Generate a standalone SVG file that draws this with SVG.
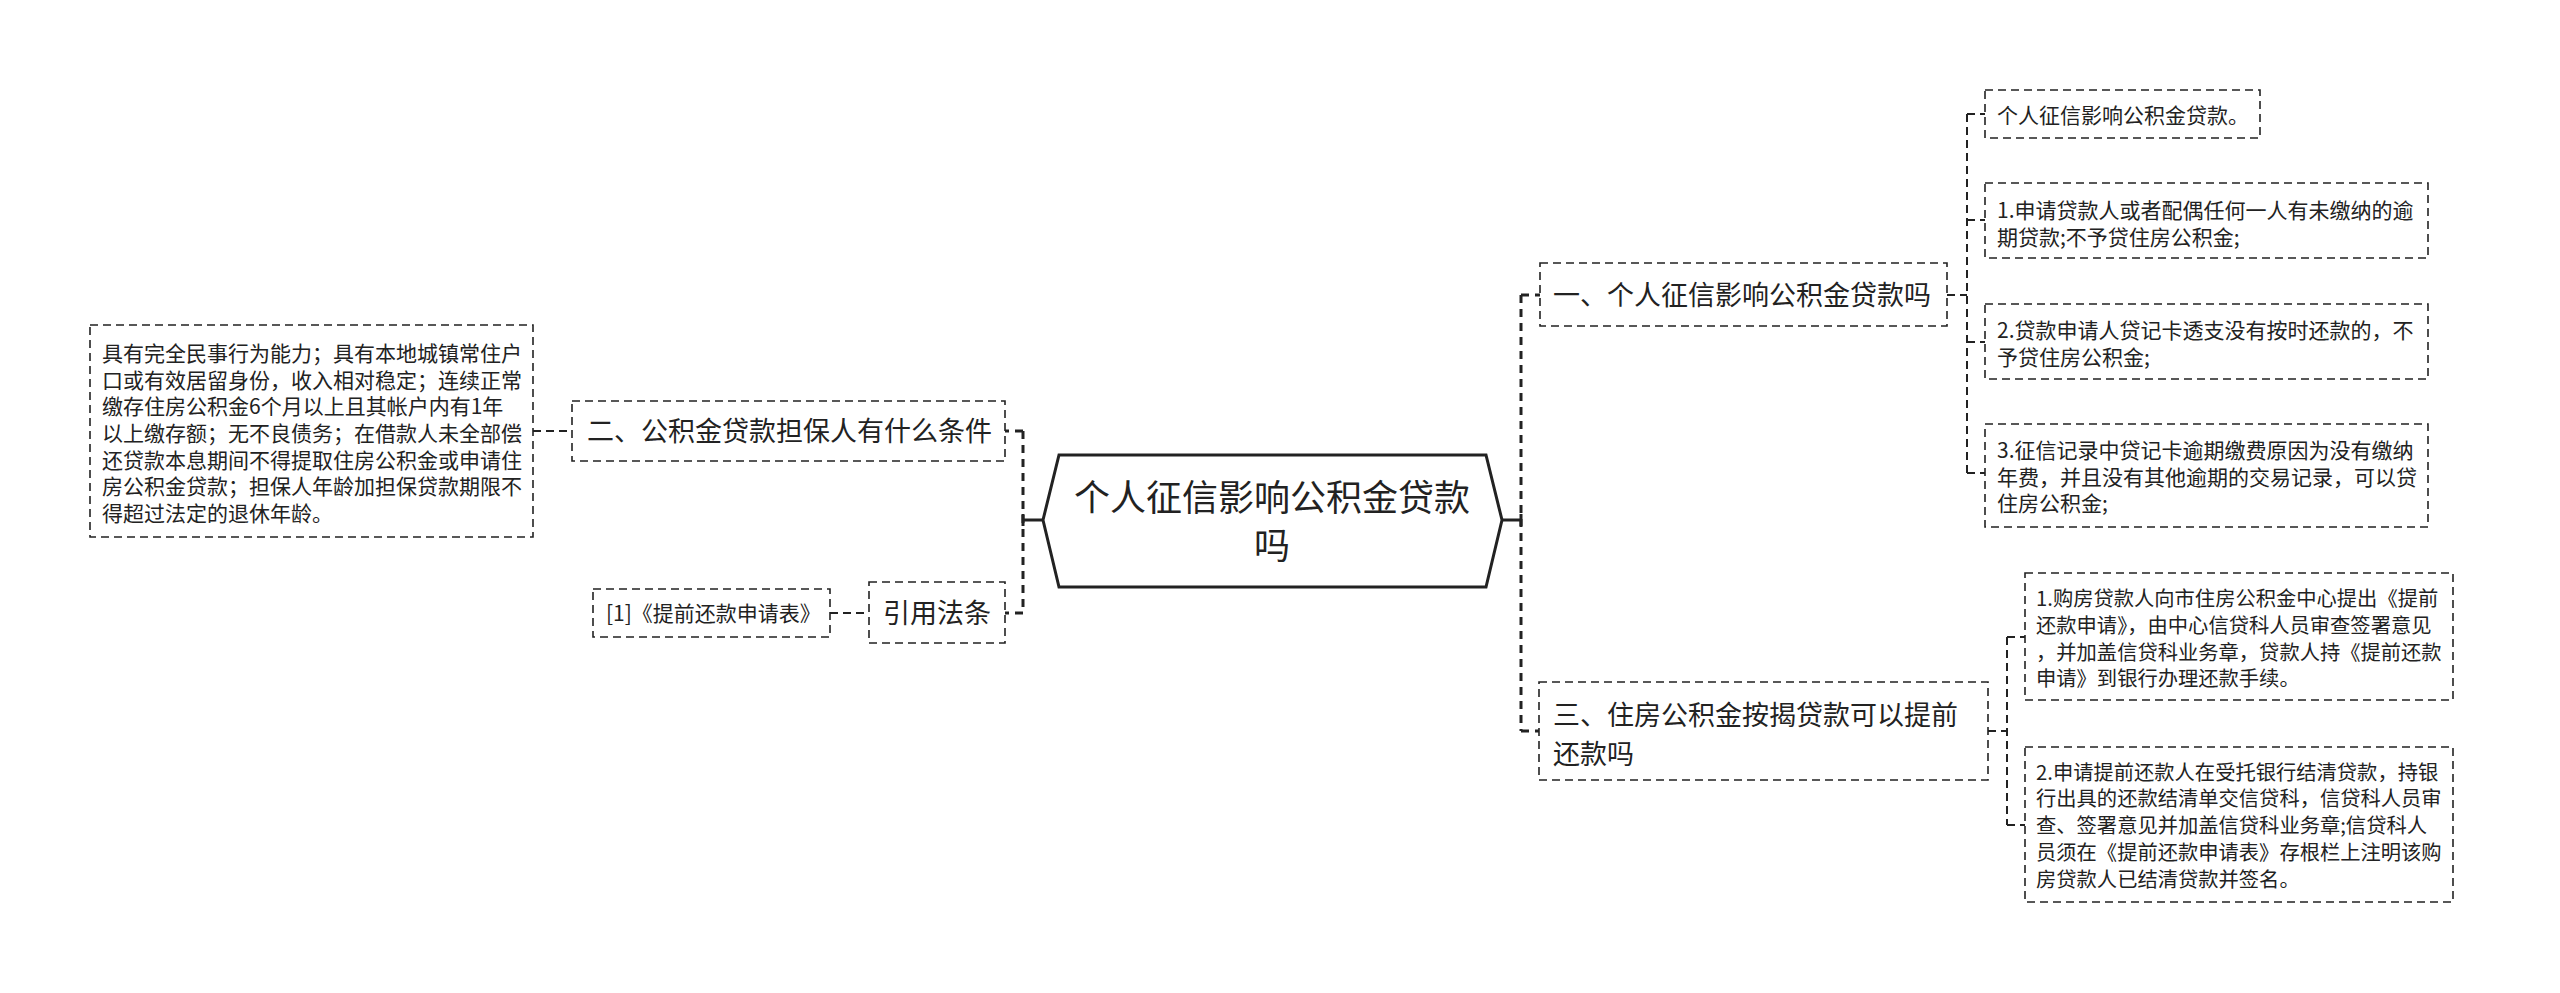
<svg xmlns="http://www.w3.org/2000/svg" width="2560" height="993" viewBox="0 0 2560 993">
<style>
text{font-family:"Noto Sans CJK SC","Noto Sans",sans-serif;fill:#222}
.box{fill:#fff;stroke:#222;stroke-width:1.6;stroke-dasharray:8 5}
.main{fill:none;stroke:#222;stroke-width:3;stroke-dasharray:8 6}
.solid{fill:none;stroke:#222;stroke-width:3}
.thin{fill:none;stroke:#222;stroke-width:2;stroke-dasharray:8 5}
.f27{font-size:27px}
.f26{font-size:26px}
.f21{font-size:21px}
.f20{font-size:20.3px}
</style>
<rect width="2560" height="993" fill="#fff"/>
<g id="connectors">
<path class="solid" d="M1043,520 H1023 M1023,514 V526 M1502,520 H1521 M1521,514 V526"/>
<path class="main" d="M1023,431 V613 M1023,431 H1005 M1023,613 H1005"/>
<path class="main" d="M1521,295 V731 M1521,295 H1540 M1521,731 H1539"/>
<path class="thin" d="M533,431 H572"/>
<path class="thin" d="M830,613 H869"/>
<path class="thin" d="M1947,295 H1967 M1967,114 V473 M1967,114 H1985 M1967,220 H1985 M1967,342 H1985 M1967,473 H1985"/>
<path class="thin" d="M1988,731 H2007 M2007,637 V825 M2007,637 H2025 M2007,825 H2025"/>
</g>
<g id="root">
<polygon points="1043,520 1059,455 1486,455 1502,520 1486,587 1059,587" fill="#fff" stroke="#222" stroke-width="3"/>
<text x="1272" y="511" font-size="36" text-anchor="middle">个人征信影响公积金贷款</text>
<text x="1272" y="559" font-size="36" text-anchor="middle">吗</text>
</g>
<g id="n1">
<rect class="box" x="1540" y="263" width="407" height="63"/>
<text class="f27" x="1553" y="305">一、个人征信影响公积金贷款吗</text>
</g>
<g id="n2">
<rect class="box" x="572" y="401" width="433" height="60"/>
<text class="f27" x="587" y="441">二、公积金贷款担保人有什么条件</text>
</g>
<g id="n3">
<rect class="box" x="1539" y="682" width="449" height="98"/>
<text class="f27" x="1553" y="725">三、住房公积金按揭贷款可以提前</text>
<text class="f27" x="1553" y="764">还款吗</text>
</g>
<g id="n4">
<rect class="box" x="869" y="582" width="136" height="61"/>
<text class="f27" x="883" y="623">引用法条</text>
</g>
<g id="leaf-ref">
<rect class="box" x="593" y="589" width="237" height="48"/>
<text class="f21" x="606" y="621">[1]《提前还款申请表》</text>
</g>
<g id="leaf-guarantor">
<rect class="box" x="90" y="325" width="443" height="212"/>
<text class="f21"><tspan x="102" y="361">具有完全民事行为能力；具有本地城镇常住户</tspan><tspan x="102" y="387.5">口或有效居留身份，收入相对稳定；连续正常</tspan><tspan x="102" y="414">缴存住房公积金6个月以上且其帐户内有1年</tspan><tspan x="102" y="441">以上缴存额；无不良债务；在借款人未全部偿</tspan><tspan x="102" y="467.5">还贷款本息期间不得提取住房公积金或申请住</tspan><tspan x="102" y="494">房公积金贷款；担保人年龄加担保贷款期限不</tspan><tspan x="102" y="521">得超过法定的退休年龄。</tspan></text>
</g>
<g id="leaf-a">
<rect class="box" x="1985" y="90" width="275" height="48"/>
<text class="f21" x="1997" y="123">个人征信影响公积金贷款。</text>
</g>
<g id="leaf-b">
<rect class="box" x="1985" y="183" width="443" height="75"/>
<text class="f21"><tspan x="1997" y="218">1.申请贷款人或者配偶任何一人有未缴纳的逾</tspan><tspan x="1997" y="245">期贷款;不予贷住房公积金;</tspan></text>
</g>
<g id="leaf-c">
<rect class="box" x="1985" y="304" width="443" height="75"/>
<text class="f21"><tspan x="1997" y="338">2.贷款申请人贷记卡透支没有按时还款的，不</tspan><tspan x="1997" y="365">予贷住房公积金;</tspan></text>
</g>
<g id="leaf-d">
<rect class="box" x="1985" y="424" width="443" height="103"/>
<text class="f21"><tspan x="1997" y="458">3.征信记录中贷记卡逾期缴费原因为没有缴纳</tspan><tspan x="1997" y="485">年费，并且没有其他逾期的交易记录，可以贷</tspan><tspan x="1997" y="511">住房公积金;</tspan></text>
</g>
<g id="leaf-e">
<rect class="box" x="2025" y="573" width="428" height="127"/>
<text class="f20"><tspan x="2036" y="606">1.购房贷款人向市住房公积金中心提出《提前</tspan><tspan x="2036" y="633">还款申请》，由中心信贷科人员审查签署意见</tspan><tspan x="2036" y="660">，并加盖信贷科业务章，贷款人持《提前还款</tspan><tspan x="2036" y="686">申请》到银行办理还款手续。</tspan></text>
</g>
<g id="leaf-f">
<rect class="box" x="2025" y="747" width="428" height="155"/>
<text class="f20"><tspan x="2036" y="780">2.申请提前还款人在受托银行结清贷款，持银</tspan><tspan x="2036" y="806">行出具的还款结清单交信贷科，信贷科人员审</tspan><tspan x="2036" y="833">查、签署意见并加盖信贷科业务章;信贷科人</tspan><tspan x="2036" y="860">员须在《提前还款申请表》存根栏上注明该购</tspan><tspan x="2036" y="887">房贷款人已结清贷款并签名。</tspan></text>
</g>
</svg>
